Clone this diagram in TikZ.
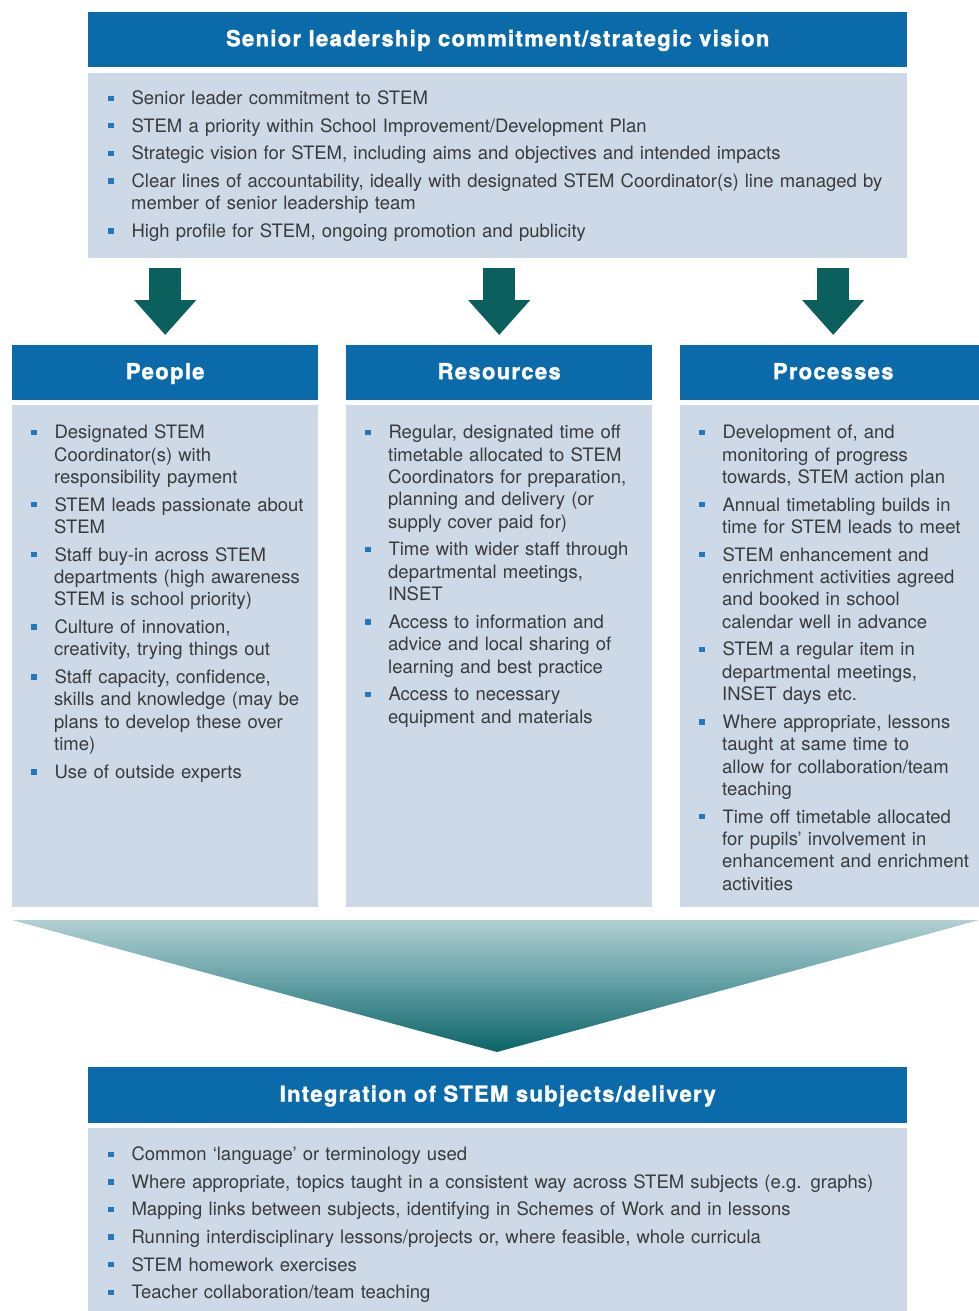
\documentclass[tikz,border=0pt]{standalone}
\usepackage{fontspec}
\setmainfont{TeX Gyre Heros}
\newfontfamily\headfamily{TeX Gyre Heros}[BoldFeatures={FakeBold=1.6},LetterSpace=6]
\usepackage{enumitem}
\usetikzlibrary{arrows.meta,positioning}

\definecolor{headblue}{HTML}{0B6AAA}
\definecolor{bodyblue}{HTML}{CDD9E7}
\definecolor{textgrey}{HTML}{3A3A3A}
\definecolor{bulletblue}{HTML}{2078BE}
\definecolor{arrowteal}{HTML}{0B5F5D}
\definecolor{funneltop}{HTML}{B2D0D3}
\definecolor{funnelmid}{HTML}{5E9CA1}
\definecolor{funnelbot}{HTML}{0A6468}

\newcommand{\titlefont}{\headfamily\bfseries\fontsize{22}{24}\selectfont}
\newcommand{\panelfont}{\fontsize{18.5}{22.4}\selectfont}
\newcommand{\blt}{\textcolor{bulletblue}{\rule[0.2em]{0.29em}{0.29em}}}
\setlist[itemize]{label=\blt,leftmargin=23pt,labelwidth=5pt,labelsep=18pt,align=left,
  itemsep=5.2pt,parsep=0pt,topsep=0pt,partopsep=0pt}

\tikzset{
  head/.style={fill=headblue,text=white,font=\titlefont,inner sep=0pt,anchor=north west,
    minimum height=55pt,text height=1.3em,text depth=0pt},
  panel/.style={fill=bodyblue,inner sep=0pt,anchor=north west},
  bullets/.style={anchor=north west,inner sep=0pt,text width=#1,align=left,text=textgrey,font=\panelfont},
  bigarrow/.style={draw=arrowteal,line width=32pt,-{Triangle[width=60pt,length=35pt]}}
}

\begin{document}
\begin{tikzpicture}[x=1pt,y=-1pt]
\useasboundingbox[fill=white] (0,0) rectangle (979,1311);

% senior leadership
\node[head,minimum width=819pt] (lead) at (88,12) {Senior leadership commitment/strategic vision};
\node[panel,minimum width=819pt,minimum height=185pt] (leadbody) at (88,73) {};
\node[bullets=820pt] (leadlist) at (108,82) {\begin{itemize}
\item Senior leader commitment to STEM
\item STEM a priority within School Improvement/Development Plan
\item Strategic vision for STEM, including aims and objectives and intended impacts
\item Clear lines of accountability, ideally with designated STEM Coordinator(s) line managed by\\ member of senior leadership team
\item High profile for STEM, ongoing promotion and publicity
\end{itemize}};

% three columns
\node[head,minimum width=306pt] (people) at (12,345) {People};
\node[head,minimum width=306pt] (resources) at (346,345) {Resources};
\node[head,minimum width=306pt] (processes) at (680,345) {Processes};
\node[panel,minimum width=306pt,minimum height=502pt] (peoplebody) at (12,405) {};
\node[panel,minimum width=306pt,minimum height=502pt] (resbody) at (346,405) {};
\node[panel,minimum width=306pt,minimum height=502pt] (procbody) at (680,405) {};

\node[bullets=300pt] (peoplelist) at (31,416) {\begin{itemize}
\item Designated STEM\\ Coordinator(s) with\\ responsibility payment
\item STEM leads passionate about\\ STEM
\item Staff buy-in across STEM\\ departments (high awareness\\ STEM is school priority)
\item Culture of innovation,\\ creativity, trying things out
\item Staff capacity, confidence,\\ skills and knowledge (may be\\ plans to develop these over\\ time)
\item Use of outside experts
\end{itemize}};
\node[bullets=300pt] (reslist) at (365,416) {\begin{itemize}
\item Regular, designated time off\\ timetable allocated to STEM\\ Coordinators for preparation,\\ planning and delivery (or\\ supply cover paid for)
\item Time with wider staff through\\ departmental meetings,\\ INSET
\item Access to information and\\ advice and local sharing of\\ learning and best practice
\item Access to necessary\\ equipment and materials
\end{itemize}};
\node[bullets=300pt] (proclist) at (699,416) {\begin{itemize}
\item Development of, and\\ monitoring of progress\\ towards, STEM action plan
\item Annual timetabling builds in\\ time for STEM leads to meet
\item STEM enhancement and\\ enrichment activities agreed\\ and booked in school\\ calendar well in advance
\item STEM a regular item in\\ departmental meetings,\\ INSET days etc.
\item Where appropriate, lessons\\ taught at same time to\\ allow for collaboration/team\\ teaching
\item Time off timetable allocated\\ for pupils' involvement in\\ enhancement and enrichment\\ activities
\end{itemize}};

\foreach \col in {people,resources,processes}
  \draw[bigarrow] ([yshift=-10pt]leadbody.south -| \col.north) -- ([yshift=10pt]\col.north);

% funnel
\shade[top color=funneltop,bottom color=funnelbot,middle color=funnelmid]
  (12,920) -- (979,920) -- (497,1052) -- cycle;

% integration
\node[head,minimum width=819pt,minimum height=56pt] (integ) at (88,1067) {Integration of STEM subjects/delivery};
\node[panel,minimum width=819pt,minimum height=183pt] (integbody) at (88,1128) {};
\node[bullets=820pt] (integlist) at (108,1138) {\begin{itemize}
\item Common ‘language’ or terminology used
\item Where appropriate, topics taught in a consistent way across STEM subjects (e.g. graphs)
\item Mapping links between subjects, identifying in Schemes of Work and in lessons
\item Running interdisciplinary lessons/projects or, where feasible, whole curricula
\item STEM homework exercises
\item Teacher collaboration/team teaching
\end{itemize}};
\end{tikzpicture}
\end{document}
